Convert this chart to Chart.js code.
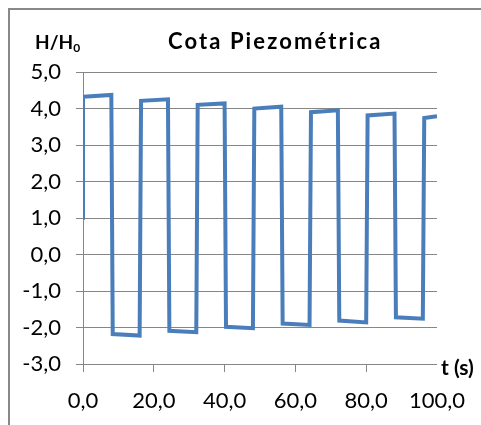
<!DOCTYPE html>
<html>
<head>
<meta charset="utf-8">
<script src="https://cdn.jsdelivr.net/npm/chart.js@4.4.0/dist/chart.umd.min.js"></script>
<style>
    body { margin: 0; background: #fff; }
    #marco { position: relative; width: 481px; height: 425px; overflow: hidden; }
    #borde { position: absolute; left: 8px; top: 8px; width: 500px; height: 450px; border: 2px solid #888; box-sizing: border-box; }
    canvas { position: absolute; left: 0; top: 0; }
    .txt { position: absolute; font-family: Lato, 'Open Sans', sans-serif; font-weight: bold; color: #000; white-space: nowrap; line-height: 1; }
    #titulo { left: 168px; top: 30px; font-size: 22px; letter-spacing: 2.1px; }
    #ejeY { left: 35px; top: 32px; font-size: 19px; }
    #ejeY sub { font-size: 12px; vertical-align: -3px; line-height: 0; }
    #ejeX { left: 441px; top: 356px; font-size: 21px; }
</style>
</head>
<body>
<div id="marco">
    <div id="borde"></div>
    <canvas id="grafico" width="481" height="425"></canvas>
    <div class="txt" id="titulo">Cota Piezométrica</div>
    <div class="txt" id="ejeY">H/H<sub>0</sub></div>
    <div class="txt" id="ejeX">t (s)</div>
</div>
<script>
// Serie de la cota piezométrica H/H0 frente al tiempo
const tiempos = [0, 0, 8, 8.4, 16, 16.4, 24, 24.4, 32, 32.4, 40, 40.4, 48, 48.4, 56, 56.4, 64, 64.4, 72, 72.4, 80, 80.4, 88, 88.4, 96, 96.4, 100];
const cotas   = [0.95, 4.32, 4.37, -2.18, -2.22, 4.21, 4.25, -2.09, -2.13, 4.10, 4.14, -1.98, -2.02, 4.00, 4.05, -1.89, -1.93, 3.90, 3.95, -1.81, -1.86, 3.81, 3.86, -1.72, -1.76, 3.74, 3.79];

const ticksX = [0, 20, 40, 60, 80, 100];
const ticksY = [-3, -2, -1, 0, 1, 2, 3, 4, 5];

const GRIS = '#868686';
const coma = v => Number(v).toFixed(1).replace('.', ',');

const puntos = tiempos.map((t, i) => ({ x: t, y: cotas[i] }));

new Chart(document.getElementById('grafico'), {
    type: 'scatter',
    data: {
        datasets: [{
            data: puntos,
            showLine: true,
            borderColor: '#4A7EBB',
            borderWidth: 4,
            pointRadius: 0,
            tension: 0,
            borderJoinStyle: 'miter'
        }]
    },
    options: {
        responsive: false,
        animation: false,
        devicePixelRatio: 1,
        layout: { padding: { top: 72, right: 36, bottom: 0, left: 0 } },
        plugins: { legend: { display: false }, tooltip: { enabled: false } },
        scales: {
            x: {
                type: 'linear',
                min: ticksX[0], max: ticksX[ticksX.length - 1],
                afterBuildTicks: s => { s.ticks = ticksX.map(v => ({ value: v })); },
                afterFit: s => { s.height = 61; },
                border: { color: GRIS, width: 1 },
                grid: {
                    drawOnChartArea: false, tickLength: 8,
                    tickColor: c => c.tick && c.tick.value === 100 ? 'rgba(0,0,0,0)' : GRIS
                },
                ticks: { color: '#000', padding: 16, maxRotation: 0, font: { family: 'Lato', size: 22 }, callback: coma }
            },
            y: {
                min: ticksY[0], max: ticksY[ticksY.length - 1],
                afterBuildTicks: s => { s.ticks = ticksY.map(v => ({ value: v })); },
                afterFit: s => { s.width = 83; },
                border: { color: GRIS, width: 1 },
                grid: { color: GRIS, tickLength: 7 },
                ticks: { color: '#000', padding: 15, font: { family: 'Lato', size: 22 }, callback: coma }
            }
        }
    }
});
</script>
</body>
</html>
